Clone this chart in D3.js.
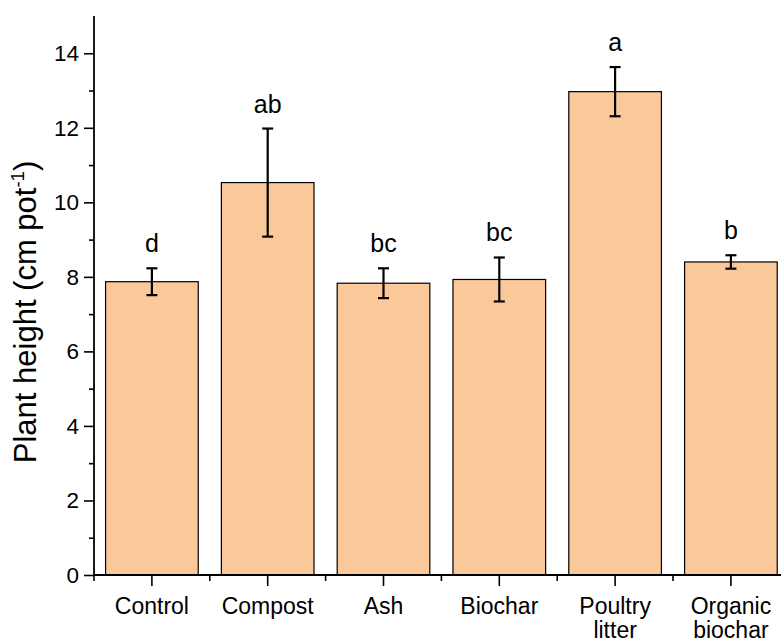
<!DOCTYPE html>
<html>
<head>
<meta charset="utf-8">
<script src="https://cdn.jsdelivr.net/npm/d3@7"></script>
<style>
  body { margin: 0; background: #fff; }
  svg text { font-family: "Liberation Sans", Arial, sans-serif; fill: #000; }
</style>
</head>
<body>
<div id="chart"></div>
<script>
const width = 781;
const height = 643;

// data
const categories = ["Control", "Compost", "Ash", "Biochar", "Poultry litter", "Organic biochar"];
const heights = [7.87, 10.53, 7.83, 7.93, 12.97, 8.40];
const errors = [0.36, 1.45, 0.40, 0.59, 0.66, 0.18];
const letters = ["d", "ab", "bc", "bc", "a", "b"];
const yTicks = [0, 2, 4, 6, 8, 10, 12, 14];

const margin = { left: 94, top: 16, bottom: 68 };
const plotBottom = height - margin.bottom;

const svg = d3.select("#chart").append("svg")
    .attr("width", width)
    .attr("height", height)
    .attr("viewBox", [0, 0, width, height]);

const x = d3.scaleBand()
    .domain(categories)
    .range([margin.left, margin.left + 6 * 115.8])
    .paddingInner(0.2)
    .paddingOuter(0.1);

const y = d3.scaleLinear()
    .domain([0, 15])
    .range([plotBottom, margin.top]);

// bars
svg.append("g").selectAll("rect")
    .data(categories)
    .enter().append("rect")
    .attr("x", d => x(d))
    .attr("y", (d, i) => y(heights[i]))
    .attr("width", x.bandwidth())
    .attr("height", (d, i) => y(0) - y(heights[i]))
    .attr("fill", "#fbc899")
    .attr("stroke", "#000")
    .attr("stroke-width", 1.2);

// error bars
const cap = 5.5;
const err = svg.append("g").attr("stroke", "#000").attr("stroke-width", 2.2);
categories.forEach((c, i) => {
    const cx = x(c) + x.bandwidth() / 2;
    const hi = y(heights[i] + errors[i]);
    const lo = y(heights[i] - errors[i]);
    err.append("line").attr("x1", cx).attr("x2", cx).attr("y1", hi).attr("y2", lo);
    err.append("line").attr("x1", cx - cap).attr("x2", cx + cap).attr("y1", hi).attr("y2", hi);
    err.append("line").attr("x1", cx - cap).attr("x2", cx + cap).attr("y1", lo).attr("y2", lo);
});

// significance letters
svg.append("g").selectAll("text")
    .data(categories)
    .enter().append("text")
    .attr("x", d => x(d) + x.bandwidth() / 2)
    .attr("y", (d, i) => y(heights[i] + errors[i]) - 16)
    .attr("text-anchor", "middle")
    .style("font-size", "25px")
    .text((d, i) => letters[i]);

// y axis
const yAxis = svg.append("g")
    .attr("transform", `translate(${margin.left},0)`)
    .call(d3.axisLeft(y).tickValues(yTicks).tickSize(10).tickPadding(5).tickSizeOuter(0));
yAxis.select(".domain").remove();
yAxis.selectAll(".tick line").attr("stroke-width", 1.6);
yAxis.selectAll("text").style("font-size", "22.5px");
svg.append("g")
    .attr("transform", `translate(${margin.left},0)`)
    .call(d3.axisLeft(y).tickValues(d3.range(1, 15, 2)).tickSize(5).tickFormat(""))
    .call(g => g.select(".domain").remove())
    .selectAll("line").attr("stroke-width", 1.6);
svg.append("line")
    .attr("x1", margin.left).attr("x2", margin.left)
    .attr("y1", y(15)).attr("y2", y(0))
    .attr("stroke", "#000").attr("stroke-width", 1.8);

// x axis
const xg = svg.append("g").attr("transform", `translate(0,${plotBottom})`);
xg.append("line")
    .attr("x1", margin.left).attr("x2", x.range()[1])
    .attr("stroke", "#000").attr("stroke-width", 1.8);
xg.selectAll(".major")
    .data(categories)
    .enter().append("line")
    .attr("x1", d => x(d) + x.bandwidth() / 2)
    .attr("x2", d => x(d) + x.bandwidth() / 2)
    .attr("y1", 0).attr("y2", 11)
    .attr("stroke", "#000").attr("stroke-width", 1.6);
xg.selectAll(".minor")
    .data(d3.range(0, categories.length + 1))
    .enter().append("line")
    .attr("x1", i => margin.left + i * x.step())
    .attr("x2", i => margin.left + i * x.step())
    .attr("y1", 0).attr("y2", 6)
    .attr("stroke", "#000").attr("stroke-width", 1.6);
const xLabels = xg.selectAll(".lab")
    .data(categories)
    .enter().append("text")
    .attr("text-anchor", "middle")
    .attr("transform", d => `translate(${x(d) + x.bandwidth() / 2},38.5)`)
    .style("font-size", "23px");
xLabels.each(function(d) {
    const words = d.split(" ");
    const t = d3.select(this);
    words.forEach((w, k) => {
        t.append("tspan").attr("x", 0).attr("dy", k === 0 ? 0 : 24.5).text(w);
    });
});

// y label
const yl = svg.append("text")
    .attr("transform", `translate(36,312) rotate(-90)`)
    .attr("text-anchor", "middle")
    .style("font-size", "31px");
yl.append("tspan").text("Plant height (cm pot");
yl.append("tspan").attr("dy", -12).style("font-size", "18.5px").text("-1");
yl.append("tspan").attr("dy", 12).text(")");
</script>
</body>
</html>
